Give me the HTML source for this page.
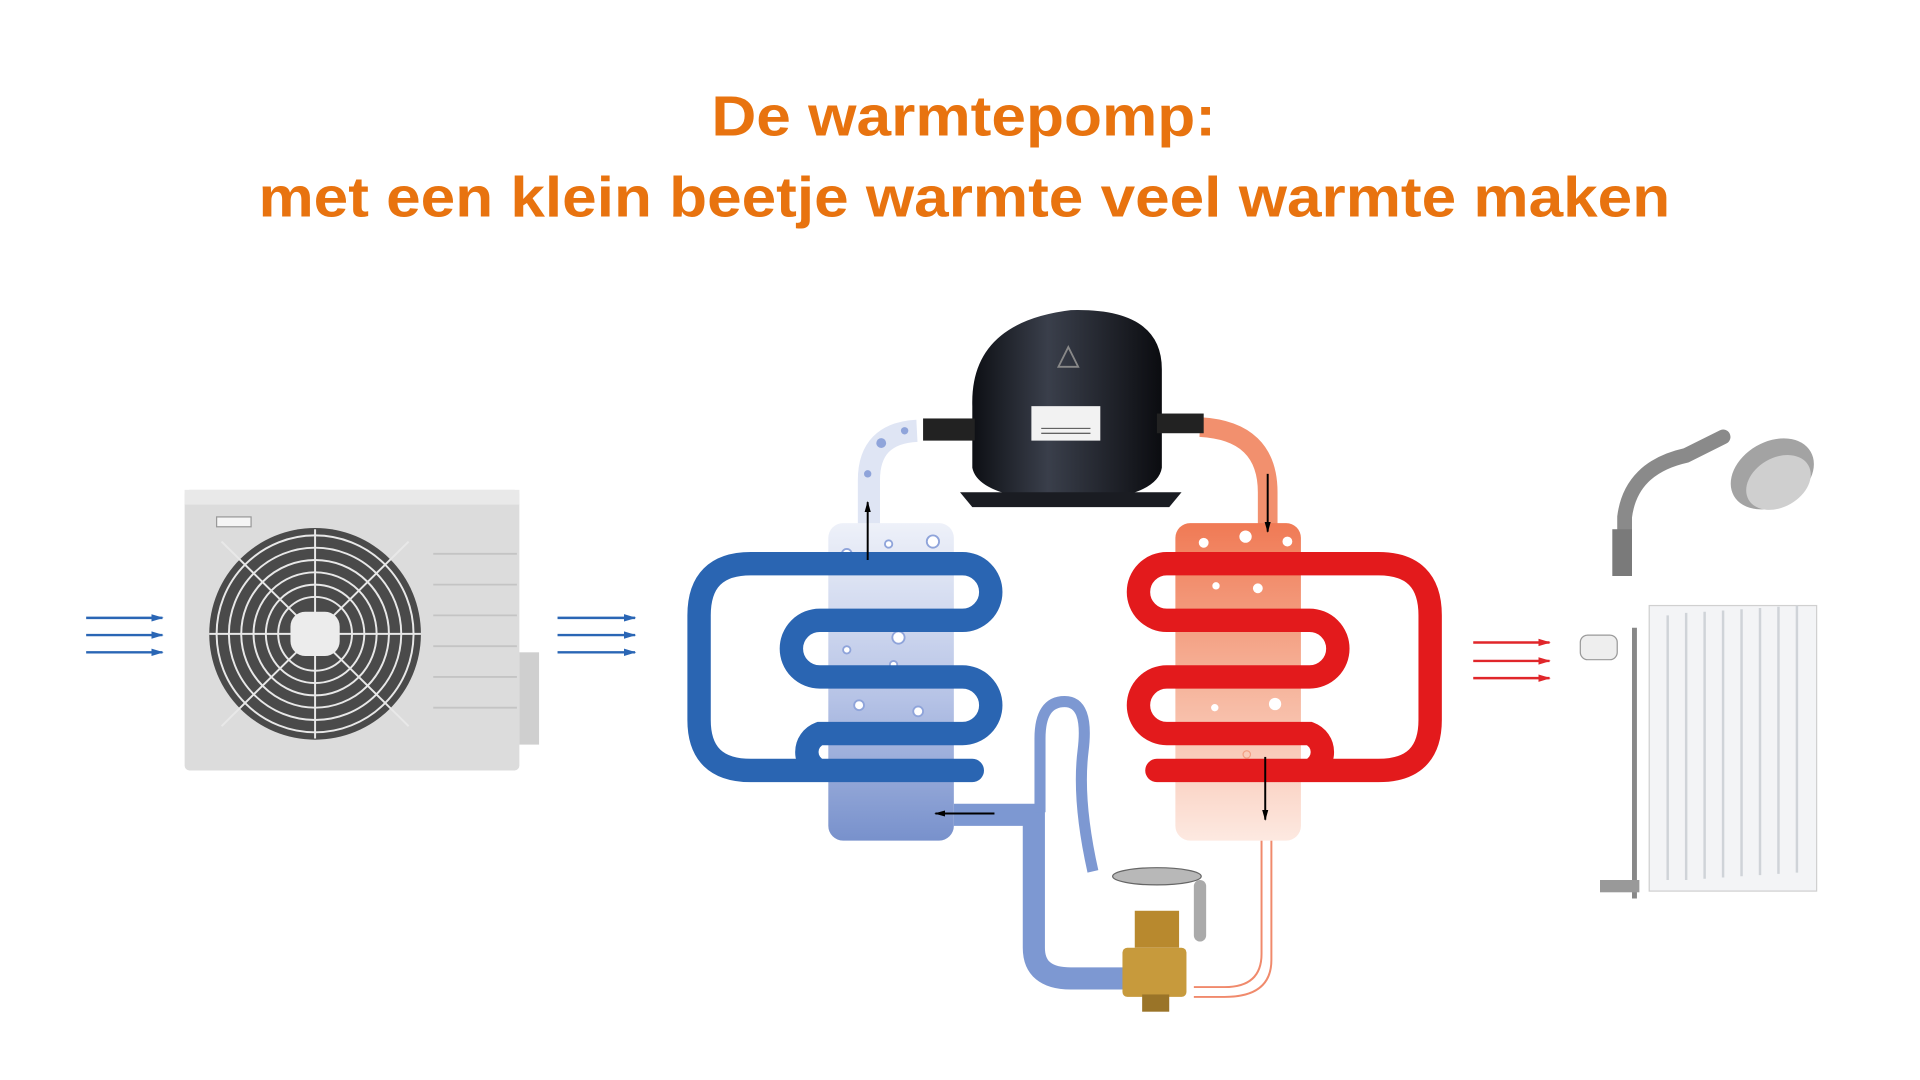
<!DOCTYPE html>
<html><head><meta charset="utf-8"><style>
html,body{margin:0;padding:0;background:#fff;width:1920px;height:1080px;overflow:hidden}
svg{display:block}
</style></head><body>
<svg width="1920" height="1080" viewBox="0 0 1560 877.5" xmlns="http://www.w3.org/2000/svg">
<defs>
<linearGradient id="bg" x1="0" y1="0" x2="0" y2="1"><stop offset="0" stop-color="#eef1f9"/><stop offset="0.55" stop-color="#b6c3e6"/><stop offset="1" stop-color="#7891cc"/></linearGradient>
<linearGradient id="rg" x1="0" y1="0" x2="0" y2="1"><stop offset="0" stop-color="#f07a55"/><stop offset="0.5" stop-color="#f6b39a"/><stop offset="1" stop-color="#fde9e1"/></linearGradient>
<linearGradient id="cg" x1="0" y1="0" x2="1" y2="0"><stop offset="0" stop-color="#0d0f14"/><stop offset="0.4" stop-color="#3a3f4b"/><stop offset="1" stop-color="#0b0c10"/></linearGradient>
<marker id="ab" markerUnits="userSpaceOnUse" markerWidth="10" markerHeight="8" refX="9" refY="4" orient="auto"><path d="M0,1 L10,4 L0,7 z" fill="#2a66b5"/></marker>
<marker id="ar" markerUnits="userSpaceOnUse" markerWidth="10" markerHeight="8" refX="9" refY="4" orient="auto"><path d="M0,1 L10,4 L0,7 z" fill="#e0262a"/></marker>
<marker id="ak" markerUnits="userSpaceOnUse" markerWidth="9" markerHeight="8" refX="8" refY="4" orient="auto"><path d="M0,1.5 L9,4 L0,6.5 z" fill="#000"/></marker>
</defs>
<g font-family="Liberation Sans, sans-serif" font-weight="bold" fill="#e8730f">
<text x="578" y="110" font-size="46" textLength="410" lengthAdjust="spacingAndGlyphs">De warmtepomp:</text>
<text x="210" y="176" font-size="46" textLength="1147" lengthAdjust="spacingAndGlyphs">met een klein beetje warmte veel warmte maken</text>
</g>
<!-- outdoor unit -->
<rect x="150" y="398" width="272" height="228" rx="4" fill="#dcdcdc"/>
<rect x="150" y="398" width="272" height="12" fill="#e9e9e9"/>
<rect x="422" y="530" width="16" height="75" fill="#cfcfcf"/>
<rect x="176" y="420" width="28" height="8" fill="#f5f5f5" stroke="#999"/>
<g stroke="#c4c4c4" stroke-width="1.5"><line x1="352" y1="450" x2="420" y2="450"/><line x1="352" y1="475" x2="420" y2="475"/><line x1="352" y1="500" x2="420" y2="500"/><line x1="352" y1="525" x2="420" y2="525"/><line x1="352" y1="550" x2="420" y2="550"/><line x1="352" y1="575" x2="420" y2="575"/></g>
<circle cx="256" cy="515" r="86" fill="#4a4a4a"/>
<g fill="none" stroke="#e8e8e8" stroke-width="1.6"><circle cx="256" cy="515" r="80"/><circle cx="256" cy="515" r="70"/><circle cx="256" cy="515" r="60"/><circle cx="256" cy="515" r="50"/><circle cx="256" cy="515" r="40"/><circle cx="256" cy="515" r="30"/>
<line x1="180" y1="440" x2="332" y2="590"/><line x1="332" y1="440" x2="180" y2="590"/><line x1="256" y1="430" x2="256" y2="600"/><line x1="170" y1="515" x2="342" y2="515"/></g>
<rect x="236" y="497" width="40" height="36" rx="12" fill="#ececec"/>
<!-- arrows -->
<g stroke="#2a66b5" stroke-width="2"><line x1="70" y1="502" x2="132" y2="502" marker-end="url(#ab)"/><line x1="70" y1="516" x2="132" y2="516" marker-end="url(#ab)"/><line x1="70" y1="530" x2="132" y2="530" marker-end="url(#ab)"/>
<line x1="453" y1="502" x2="516" y2="502" marker-end="url(#ab)"/><line x1="453" y1="516" x2="516" y2="516" marker-end="url(#ab)"/><line x1="453" y1="530" x2="516" y2="530" marker-end="url(#ab)"/></g>
<g stroke="#e0262a" stroke-width="2"><line x1="1197" y1="522" x2="1259" y2="522" marker-end="url(#ar)"/><line x1="1197" y1="537" x2="1259" y2="537" marker-end="url(#ar)"/><line x1="1197" y1="551" x2="1259" y2="551" marker-end="url(#ar)"/></g>
<!-- pipes -->
<path d="M706 430 V390 Q706 352 745 350" fill="none" stroke="#dfe5f4" stroke-width="18"/>
<path d="M975 347 Q1030 350 1030 400 V430" fill="none" stroke="#f2906e" stroke-width="16"/>
<path d="M775 662 H840 V770 Q840 795 870 795 H915" fill="none" stroke="#7d98d2" stroke-width="18"/>
<path d="M845 660 V600 Q845 570 865 570 Q885 570 880 610 Q875 650 888 708" fill="none" stroke="#7d98d2" stroke-width="9"/>
<path d="M1025 683 V775 Q1025 802 995 802 H970 M1033 683 V780 Q1033 810 995 810 H970" fill="none" stroke="#f08a6c" stroke-width="1.6"/>
<!-- cylinders -->
<rect x="673" y="425" width="102" height="258" rx="12" fill="url(#bg)"/>
<rect x="955" y="425" width="102" height="258" rx="12" fill="url(#rg)"/>
<g fill="#fff" stroke="#8fa4da" stroke-width="1.5"><circle cx="688" cy="450" r="4"/><circle cx="722" cy="442" r="3"/><circle cx="758" cy="440" r="5"/><circle cx="745" cy="462" r="3"/><circle cx="705" cy="507" r="3"/><circle cx="730" cy="518" r="5"/><circle cx="688" cy="528" r="3"/><circle cx="726" cy="540" r="3"/><circle cx="698" cy="573" r="4"/><circle cx="746" cy="578" r="4"/><circle cx="708" cy="595" r="3"/></g>
<g fill="#8fa4da"><circle cx="716" cy="360" r="4"/><circle cx="705" cy="385" r="3"/><circle cx="735" cy="350" r="3"/></g>
<g fill="#fff"><circle cx="978" cy="441" r="4"/><circle cx="1012" cy="436" r="5"/><circle cx="1046" cy="440" r="4"/><circle cx="1022" cy="478" r="4"/><circle cx="988" cy="476" r="3"/><circle cx="975" cy="500" r="5"/><circle cx="1045" cy="508" r="3"/><circle cx="1025" cy="550" r="4"/><circle cx="977" cy="550" r="3"/><circle cx="1036" cy="572" r="5"/><circle cx="987" cy="575" r="3"/><circle cx="1013" cy="613" r="3" stroke="#f2a085" fill="none"/></g>
<!-- coils -->
<g fill="none" stroke="#2a65b2" stroke-width="19" stroke-linecap="round">
<path d="M790 626 H610 Q568 626 568 585 V500 Q568 458 610 458 H782 A23 23 0 0 1 782 504 H666 A23 23 0 0 0 666 550 H782 A23 23 0 0 1 782 596 H666 A16 16 0 0 0 666 626"/>
</g>
<g fill="none" stroke="#e31a1c" stroke-width="19" stroke-linecap="round">
<path d="M940 626 H1120 Q1162 626 1162 585 V500 Q1162 458 1120 458 H948 A23 23 0 0 0 948 504 H1064 A23 23 0 0 1 1064 550 H948 A23 23 0 0 0 948 596 H1064 A16 16 0 0 1 1064 626"/>
</g>
<!-- flow arrows -->
<g stroke="#000" stroke-width="1.6"><line x1="705" y1="455" x2="705" y2="408" marker-end="url(#ak)"/><line x1="1030" y1="385" x2="1030" y2="432" marker-end="url(#ak)"/><line x1="1028" y1="615" x2="1028" y2="666" marker-end="url(#ak)"/><line x1="808" y1="661" x2="760" y2="661" marker-end="url(#ak)"/></g>
<!-- compressor -->
<path d="M790 330 Q788 262 870 252 Q944 250 944 300 L944 380 Q940 405 870 408 Q795 405 790 380 Z" fill="url(#cg)"/>
<path d="M780 400 L960 400 L950 412 L790 412 Z" fill="#1a1c22"/>
<rect x="750" y="340" width="42" height="18" fill="#222"/><rect x="940" y="336" width="38" height="16" fill="#222"/>
<rect x="838" y="330" width="56" height="28" fill="#f2f2f2"/>
<g stroke="#333" stroke-width="0.8"><line x1="846" y1="348" x2="886" y2="348"/><line x1="846" y1="352" x2="886" y2="352"/></g>
<path d="M860 298 L868 282 L876 298 Z" fill="none" stroke="#888" stroke-width="1.5"/>
<!-- expansion valve -->
<ellipse cx="940" cy="712" rx="36" ry="7" fill="#b8b8b8" stroke="#666"/>
<rect x="970" y="715" width="10" height="50" rx="5" fill="#aaa"/>
<rect x="922" y="740" width="36" height="30" fill="#b8892e"/>
<rect x="912" y="770" width="52" height="40" rx="4" fill="#c79a3c"/>
<rect x="928" y="808" width="22" height="14" fill="#9a7428"/>
<!-- shower -->
<path d="M1320 460 V420 Q1325 380 1370 370 L1400 355" fill="none" stroke="#8a8a8a" stroke-width="12" stroke-linecap="round"/>
<rect x="1310" y="430" width="16" height="38" fill="#7a7a7a"/>
<ellipse cx="1440" cy="385" rx="36" ry="26" transform="rotate(-30 1440 385)" fill="#a3a3a3"/>
<ellipse cx="1445" cy="392" rx="28" ry="20" transform="rotate(-30 1445 392)" fill="#cfcfcf"/>
<!-- radiator -->
<rect x="1340" y="492" width="136" height="232" fill="#f3f4f6" stroke="#d0d0d0"/>
<g stroke="#cfd3d8" stroke-width="2"><line x1="1355" y1="500" x2="1355" y2="715"/><line x1="1370" y1="498" x2="1370" y2="715"/><line x1="1385" y1="497" x2="1385" y2="714"/><line x1="1400" y1="496" x2="1400" y2="713"/><line x1="1415" y1="495" x2="1415" y2="712"/><line x1="1430" y1="494" x2="1430" y2="711"/><line x1="1445" y1="493" x2="1445" y2="710"/><line x1="1460" y1="492" x2="1460" y2="709"/></g>
<line x1="1328" y1="510" x2="1328" y2="730" stroke="#888" stroke-width="4"/>
<rect x="1284" y="516" width="30" height="20" rx="6" fill="#eee" stroke="#999"/>
<rect x="1300" y="715" width="32" height="10" fill="#999"/>
</svg>
</body></html>
